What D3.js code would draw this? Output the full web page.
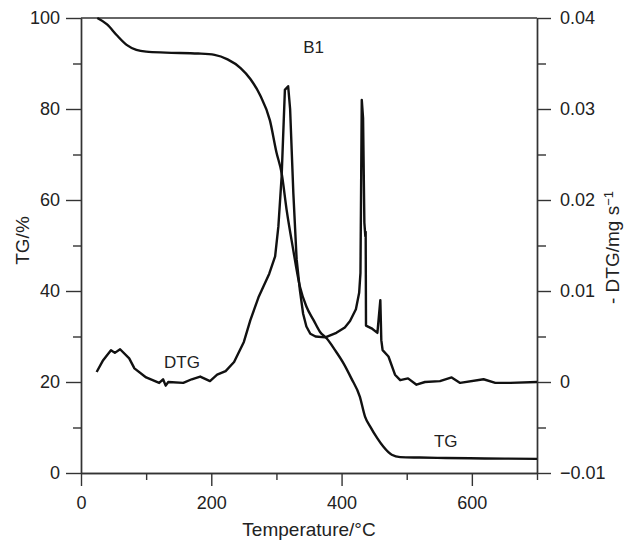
<!DOCTYPE html>
<html>
<head>
<meta charset="utf-8">
<script src="https://cdn.jsdelivr.net/npm/d3@7"></script>
<style>
  html, body { margin: 0; padding: 0; background: #fff; overflow: hidden; }
  svg { display: block; }
  svg text { font-family: "Liberation Sans", Arial, sans-serif; fill: #222; }
  .axis path, .axis line { stroke: #333; stroke-width: 1.4; }
</style>
</head>
<body>
<div id="chart"></div>
<script>
// TG curve (temperature in °C, mass in %)
const tgTemp = [25, 40, 55, 70, 85, 100, 130, 180, 205, 225, 245, 260, 275, 290, 300, 308, 316, 325, 336, 346, 357, 367, 377, 390, 403, 415, 428, 436, 444, 455, 464, 477, 490, 520, 560, 620, 700];
const tgValue = [100, 98.6, 96.2, 94.1, 93, 92.6, 92.4, 92.2, 91.9, 90.9, 89, 86.6, 83, 77.5, 70.5, 65.9, 57.5, 49.7, 41, 36.6, 33.6, 31, 29.6, 27, 24.1, 20.8, 16.8, 12.4, 10.2, 7.6, 5.8, 4, 3.5, 3.4, 3.3, 3.2, 3.1];

// DTG curve (temperature in °C, -DTG in mg/s)
const dtgTemp = [24, 34, 46, 52, 60, 74, 82, 100, 120, 126, 130, 134, 157, 170, 183, 198, 209, 222, 235, 250, 260, 273, 289, 298, 303, 308, 313, 318, 321, 326, 331, 336, 341, 346, 352, 360, 375, 392, 405, 413, 422, 427, 429, 431, 433, 435, 436.5, 437, 437.5, 446, 455, 459.5, 461, 463, 472, 482, 490, 502, 515, 528, 551, 569, 582, 618, 636, 659, 700];
const dtgValue = [0.0011, 0.0024, 0.0035, 0.0032, 0.0036, 0.0026, 0.0015, 0.0005, -0.0001, 0.0003, -0.0004, 0, -0.0001, 0.0003, 0.0006, 0.0001, 0.0008, 0.0012, 0.0022, 0.0044, 0.0068, 0.0094, 0.0119, 0.0138, 0.0171, 0.0226, 0.0321, 0.0325, 0.03, 0.0207, 0.0135, 0.0101, 0.0075, 0.0061, 0.0053, 0.005, 0.0049, 0.0054, 0.006, 0.0067, 0.008, 0.0098, 0.012, 0.031, 0.029, 0.0175, 0.016, 0.0165, 0.0062, 0.0059, 0.0054, 0.009, 0.0046, 0.0035, 0.0028, 0.0008, 0.0002, 0.0004, -0.0003, 0, 0.0001, 0.0005, -0.0001, 0.0003, -0.0001, -0.0001, 0];

// ticks
const xMajor = [0, 200, 400, 600];
const xMinor = [100, 300, 500, 700];
const tgMajor = [0, 20, 40, 60, 80, 100];
const tgMinor = [10, 30, 50, 70, 90];
const dtgMajor = [-0.01, 0, 0.01, 0.02, 0.03, 0.04];
const dtgMinor = [-0.005, 0.005, 0.015, 0.025, 0.035];
const dtgTickLabels = ["\u22120.01", "0", "0.01", "0.02", "0.03", "0.04"];

const width = 624, height = 542;
const margin = { top: 18, right: 87, bottom: 69, left: 81 };
const innerWidth = width - margin.left - margin.right;
const innerHeight = height - margin.top - margin.bottom;

const svg = d3.select("#chart")
  .append("svg")
  .attr("width", width)
  .attr("height", height);

const innerChart = svg.append("g")
  .attr("transform", `translate(${margin.left}, ${margin.top})`);

// scales
const xScale = d3.scaleLinear().domain([0, 700]).range([0, innerWidth]);
const yTG = d3.scaleLinear().domain([0, 100]).range([innerHeight, 0]);
const yDTG = d3.scaleLinear().domain([-0.01, 0.04]).range([innerHeight, 0]);

// top frame line
innerChart.append("line")
  .attr("x1", xScale(0)).attr("x2", xScale(700))
  .attr("y1", yTG(100)).attr("y2", yTG(100))
  .attr("stroke", "#333").attr("stroke-width", 1.4);

// x axis (major + minor)
innerChart.append("g")
  .attr("class", "axis")
  .attr("transform", `translate(0, ${innerHeight})`)
  .call(d3.axisBottom(xScale).tickValues(xMinor).tickSize(7).tickSizeOuter(0).tickFormat(""));
innerChart.append("g")
  .attr("class", "axis")
  .attr("transform", `translate(0, ${innerHeight})`)
  .call(d3.axisBottom(xScale).tickValues(xMajor).tickSize(13).tickSizeOuter(0).tickPadding(10).tickFormat(d3.format("d")));

// left axis
innerChart.append("g")
  .attr("class", "axis")
  .call(d3.axisLeft(yTG).tickValues(tgMinor).tickSize(8).tickSizeOuter(0).tickFormat(""));
innerChart.append("g")
  .attr("class", "axis")
  .call(d3.axisLeft(yTG).tickValues(tgMajor).tickSize(15).tickSizeOuter(0).tickPadding(6).tickFormat(d3.format("d")));

// right axis
innerChart.append("g")
  .attr("class", "axis")
  .attr("transform", `translate(${innerWidth}, 0)`)
  .call(d3.axisRight(yDTG).tickValues(dtgMinor).tickSize(9).tickSizeOuter(0).tickFormat(""));
innerChart.append("g")
  .attr("class", "axis")
  .attr("transform", `translate(${innerWidth}, 0)`)
  .call(d3.axisRight(yDTG).tickValues(dtgMajor).tickSize(14).tickSizeOuter(0).tickPadding(9)
    .tickFormat((d, i) => dtgTickLabels[i]));

svg.selectAll(".axis text").style("font-size", "18px");

// curves
const tgData = tgTemp.map((t, i) => ({ t: t, v: tgValue[i] }));
const dtgData = dtgTemp.map((t, i) => ({ t: t, v: dtgValue[i] }));

innerChart.append("path")
  .datum(tgData)
  .attr("fill", "none")
  .attr("stroke", "#111")
  .attr("stroke-width", 2.4)
  .attr("stroke-linejoin", "round")
  .attr("d", d3.line().x(d => xScale(d.t)).y(d => yTG(d.v)).curve(d3.curveMonotoneX));

innerChart.append("path")
  .datum(dtgData)
  .attr("fill", "none")
  .attr("stroke", "#111")
  .attr("stroke-width", 2.4)
  .attr("stroke-linejoin", "round")
  .attr("d", d3.line().x(d => xScale(d.t)).y(d => yDTG(d.v)));

// annotations
innerChart.append("text")
  .attr("x", xScale(357)).attr("y", yTG(92.2))
  .attr("text-anchor", "middle")
  .style("font-size", "17px")
  .text("B1");
innerChart.append("text")
  .attr("x", xScale(155)).attr("y", yTG(23))
  .attr("text-anchor", "middle")
  .style("font-size", "17px")
  .text("DTG");
innerChart.append("text")
  .attr("x", xScale(560)).attr("y", yTG(5.7))
  .attr("text-anchor", "middle")
  .style("font-size", "17px")
  .text("TG");

// axis titles
svg.append("text")
  .attr("x", margin.left + innerWidth / 2)
  .attr("y", 536)
  .attr("text-anchor", "middle")
  .style("font-size", "19px")
  .text("Temperature/°C");

svg.append("text")
  .attr("transform", `translate(29, ${margin.top + innerHeight / 2 - 5}) rotate(-90)`)
  .attr("text-anchor", "middle")
  .style("font-size", "19px")
  .text("TG/%");

const rightTitle = svg.append("text")
  .attr("transform", `translate(619, ${margin.top + innerHeight / 2 + 2}) rotate(-90)`)
  .attr("text-anchor", "middle")
  .style("font-size", "19px");
rightTitle.append("tspan").text("- DTG/mg s");
rightTitle.append("tspan")
  .attr("dy", "-0.45em")
  .style("font-size", "13px")
  .text("\u22121");
</script>
</body>
</html>
